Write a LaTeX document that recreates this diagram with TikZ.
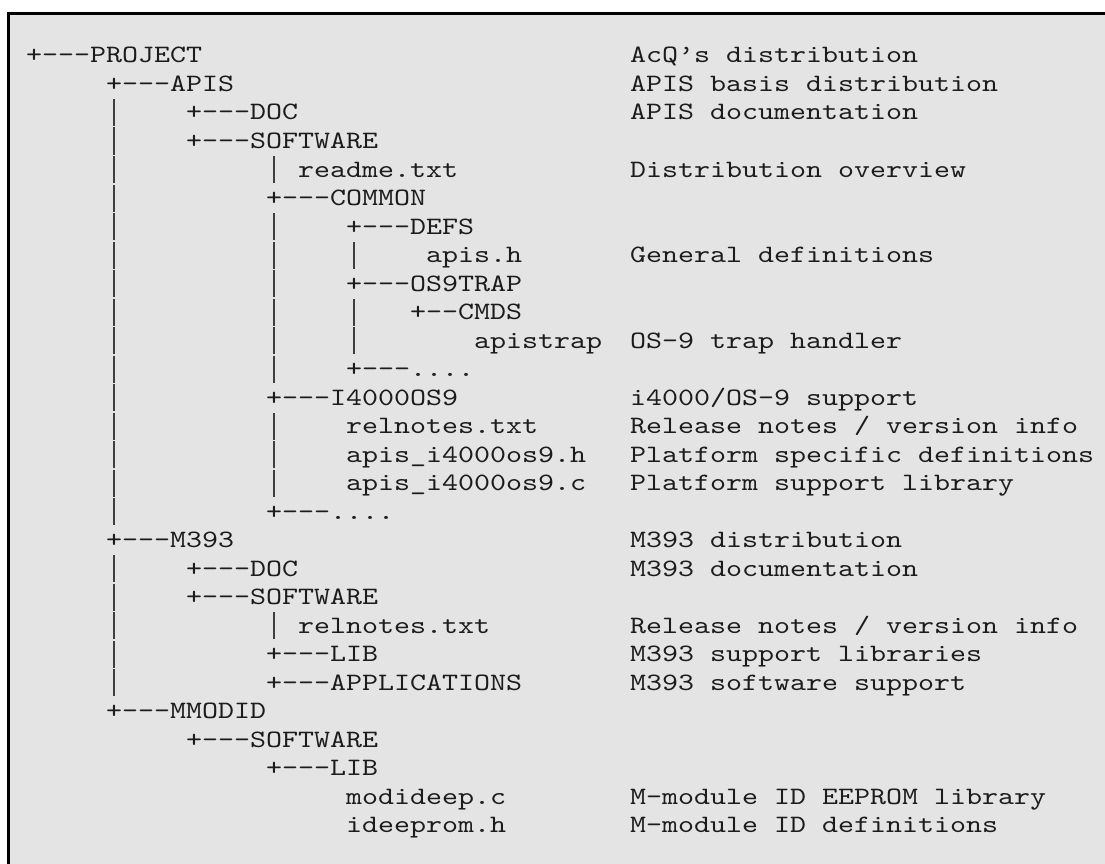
\documentclass[tikz,border=0pt]{standalone}
\usepackage{fontspec}
\setmonofont{lmmono10-regular.otf}[FakeStretch=1.219]
\usepackage{xcolor}
\usepackage{tikz}
\definecolor{panelgray}{RGB}{228,228,228}
\definecolor{treeink}{RGB}{28,28,28}

% character grid: 16pt per column, 28.5pt per row
\newcommand{\colx}[1]{26+16*#1}
\newcommand{\rowy}[1]{63+28.5*(#1-1)}
\newcommand{\notex}{630}

\tikzset{
  entry/.style={anchor=base west, inner sep=0pt, text=treeink,
    font=\ttfamily\fontsize{25}{28.5}\selectfont},
  note/.style={entry},
  barmark/.style={anchor=base, inner sep=0pt, text=treeink!85},
}
\newcommand{\barglyph}{\rule[-6pt]{1.6pt}{27pt}}

\begin{document}
\begin{tikzpicture}[x=1pt, y=-1pt]
  \useasboundingbox (0,0) rectangle (1105,864);
  \fill[panelgray] (8.5,13.5) rectangle (1105,864);
  \draw[line width=3pt] (8.5,864) -- (8.5,13.5) -- (1105,13.5);

  % tree entries
  \node[entry] (project) at ({\colx{0}},{\rowy{1}}) {+–--PROJECT};
  \node[entry] (apis) at ({\colx{5}},{\rowy{2}}) {+–--APIS};
  \node[entry] (apisdoc) at ({\colx{10}},{\rowy{3}}) {+–--DOC};
  \node[entry] (apissw) at ({\colx{10}},{\rowy{4}}) {+–--SOFTWARE};
  \node[entry] (readme) at ({\colx{17}},{\rowy{5}}) {readme.txt};
  \node[entry] (common) at ({\colx{15}},{\rowy{6}}) {+–--COMMON};
  \node[entry] (defs) at ({\colx{20}},{\rowy{7}}) {+–--DEFS};
  \node[entry] (apish) at ({\colx{25}},{\rowy{8}}) {apis.h};
  \node[entry] (ostrap) at ({\colx{20}},{\rowy{9}}) {+–--OS9TRAP};
  \node[entry] (cmds) at ({\colx{24}},{\rowy{10}}) {+–-CMDS};
  \node[entry] (apistrap) at ({\colx{28}},{\rowy{11}}) {apistrap};
  \node[entry] (commonmore) at ({\colx{20}},{\rowy{12}}) {+–--....};
  \node[entry] (ifour) at ({\colx{15}},{\rowy{13}}) {+–--I4000OS9};
  \node[entry] (ifournotes) at ({\colx{20}},{\rowy{14}}) {relnotes.txt};
  \node[entry] (ifourh) at ({\colx{20}},{\rowy{15}}) {apis\_i4000os9.h};
  \node[entry] (ifourc) at ({\colx{20}},{\rowy{16}}) {apis\_i4000os9.c};
  \node[entry] (swmore) at ({\colx{15}},{\rowy{17}}) {+–--....};
  \node[entry] (mthree) at ({\colx{5}},{\rowy{18}}) {+–--M393};
  \node[entry] (mthreedoc) at ({\colx{10}},{\rowy{19}}) {+–--DOC};
  \node[entry] (mthreesw) at ({\colx{10}},{\rowy{20}}) {+–--SOFTWARE};
  \node[entry] (mthreenotes) at ({\colx{17}},{\rowy{21}}) {relnotes.txt};
  \node[entry] (mthreelib) at ({\colx{15}},{\rowy{22}}) {+–--LIB};
  \node[entry] (mthreeapp) at ({\colx{15}},{\rowy{23}}) {+–--APPLICATIONS};
  \node[entry] (mmodid) at ({\colx{5}},{\rowy{24}}) {+–--MMODID};
  \node[entry] (mmodidsw) at ({\colx{10}},{\rowy{25}}) {+–--SOFTWARE};
  \node[entry] (mmodidlib) at ({\colx{15}},{\rowy{26}}) {+–--LIB};
  \node[entry] (modideep) at ({\colx{20}},{\rowy{27}}) {modideep.c};
  \node[entry] (ideeprom) at ({\colx{20}},{\rowy{28}}) {ideeprom.h};

  % vertical bars
  \foreach \r in {3,...,17}
    \node[barmark] (barA\r) at ({\colx{5}+8},{\rowy{\r}}) {\barglyph};
  \foreach \r in {19,...,23}
    \node[barmark] (barB\r) at ({\colx{5}+8},{\rowy{\r}}) {\barglyph};
  \foreach \r in {5,7,8,9,10,11,12,14,15,16,21}
    \node[barmark] (barC\r) at ({\colx{15}+8},{\rowy{\r}}) {\barglyph};
  \foreach \r in {8,10,11}
    \node[barmark] (barD\r) at ({\colx{20}+8},{\rowy{\r}}) {\barglyph};

  % descriptions
  \node[note] (projectnote) at (\notex,{\rowy{1}}) {AcQ’s distribution};
  \node[note] (apisnote) at (\notex,{\rowy{2}}) {APIS basis distribution};
  \node[note] (apisdocnote) at (\notex,{\rowy{3}}) {APIS documentation};
  \node[note] (readmenote) at (\notex,{\rowy{5}}) {Distribution overview};
  \node[note] (apishnote) at (\notex,{\rowy{8}}) {General definitions};
  \node[note] (apistrapnote) at (\notex,{\rowy{11}}) {OS-9 trap handler};
  \node[note] (ifournote) at (\notex,{\rowy{13}}) {i4000/OS-9 support};
  \node[note] (ifournotesnote) at (\notex,{\rowy{14}}) {Release notes / version info};
  \node[note] (ifourhnote) at (\notex,{\rowy{15}}) {Platform specific definitions};
  \node[note] (ifourcnote) at (\notex,{\rowy{16}}) {Platform support library};
  \node[note] (mthreenote) at (\notex,{\rowy{18}}) {M393 distribution};
  \node[note] (mthreedocnote) at (\notex,{\rowy{19}}) {M393 documentation};
  \node[note] (mthreenotesnote) at (\notex,{\rowy{21}}) {Release notes / version info};
  \node[note] (mthreelibnote) at (\notex,{\rowy{22}}) {M393 support libraries};
  \node[note] (mthreeappnote) at (\notex,{\rowy{23}}) {M393 software support};
  \node[note] (modideepnote) at (\notex,{\rowy{27}}) {M-module ID EEPROM library};
  \node[note] (ideepromnote) at (\notex,{\rowy{28}}) {M-module ID definitions};
\end{tikzpicture}
\end{document}
